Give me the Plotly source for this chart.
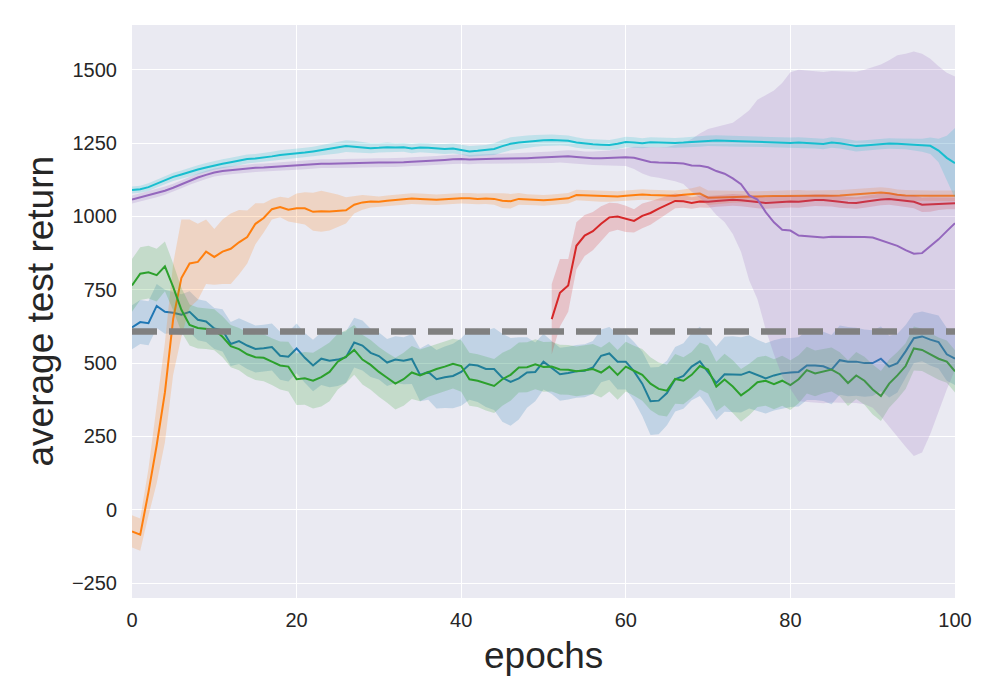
import plotly.graph_objects as go

# ---- data (one value per epoch) ----
epochs = list(range(101))
red_epochs = list(range(51, 101))

cyan = [1090,1093,1100,1112,1125,1135,1143,1152,1160,1167,
        1174,1180,1185,1190,1196,1198,1201,1205,1210,1212,
        1214,1218,1222,1226,1230,1234,1240,1238,1235,1233,
        1234,1236,1235,1236,1232,1235,1234,1231,1230,1232,
        1228,1222,1224,1226,1230,1240,1248,1252,1255,1258,
        1260,1261,1260,1258,1252,1248,1246,1245,1244,1248,
        1254,1252,1250,1253,1252,1252,1251,1252,1254,1256,
        1258,1259,1258,1257,1256,1256,1255,1254,1253,1252,
        1251,1252,1251,1250,1247,1252,1250,1245,1240,1242,
        1244,1247,1249,1248,1247,1245,1243,1241,1225,1200,
        1182]
cyan_sd = [12,12,13,13,14,14,14,15,15,15,
           15,15,15,15,15,15,15,16,16,16,
           16,16,16,17,18,19,20,20,18,17,
           16,16,15,15,16,16,16,16,17,17,
           17,18,18,18,20,22,22,22,21,20,
           20,19,18,18,18,17,17,17,17,18,
           18,18,17,17,17,17,17,17,18,18,
           18,18,18,18,18,18,18,18,18,18,
           18,18,18,18,18,18,18,18,18,18,
           18,18,18,18,18,20,22,28,40,75,
           120]

purple = [1058,1065,1072,1080,1088,1098,1110,1122,1133,1142,
          1150,1155,1158,1161,1164,1166,1167,1169,1171,1172,
          1174,1176,1179,1180,1180,1181,1180,1181,1182,1183,
          1184,1184,1184,1185,1187,1188,1190,1191,1193,1195,
          1196,1194,1196,1196,1197,1197,1198,1199,1199,1200,
          1201,1202,1204,1205,1203,1200,1199,1199,1200,1201,
          1202,1200,1192,1186,1184,1182,1182,1181,1174,1173,
          1168,1155,1146,1130,1110,1072,1058,1015,980,955,
          952,935,932,930,928,931,931,930,929,930,
          928,918,908,900,885,873,875,898,922,950,
          977]
purple_sd = [14,14,14,14,14,14,14,14,14,14,
             14,14,14,14,14,14,14,14,14,15,
             15,15,15,15,15,15,15,15,15,15,
             15,15,15,15,15,15,15,15,16,16,
             16,16,16,16,17,17,17,18,18,18,
             19,20,20,21,22,22,23,24,25,28,
             30,38,45,50,52,55,62,70,90,110,
             130,150,165,190,230,290,340,400,450,500,
             540,565,565,565,565,565,565,565,565,570,
             580,600,625,650,670,690,680,640,590,540,
             500]

orange = [-74,-85,60,220,400,650,790,840,845,880,
          862,880,890,912,930,975,995,1025,1032,1023,
          1028,1028,1016,1018,1017,1020,1021,1040,1048,1051,
          1050,1054,1056,1058,1061,1060,1058,1057,1059,1061,
          1062,1062,1060,1061,1060,1054,1052,1060,1058,1056,
          1055,1057,1060,1062,1073,1072,1070,1068,1068,1068,
          1071,1073,1075,1073,1072,1072,1071,1074,1076,1078,
          1064,1065,1066,1067,1068,1068,1068,1069,1070,1070,
          1071,1072,1071,1071,1070,1071,1072,1074,1076,1079,
          1081,1082,1079,1074,1072,1071,1071,1071,1071,1071,
          1071]
orange_sd = [55,55,80,130,170,190,200,150,130,110,
             95,110,120,110,90,70,50,35,35,40,
             50,55,65,70,65,55,45,30,25,20,
             18,18,18,18,18,18,18,18,18,18,
             18,18,18,18,20,25,25,20,18,18,
             18,18,18,18,18,18,18,18,18,18,
             18,18,18,18,18,18,18,18,20,25,
             25,24,22,20,18,18,18,18,18,18,
             18,18,18,18,18,18,18,18,18,18,
             18,18,18,18,18,18,18,18,18,18,
             18]

red = [650,740,765,900,935,950,975,997,1000,992,
       985,1002,1012,1027,1040,1053,1052,1046,1051,1050,
       1053,1056,1057,1055,1052,1048,1046,1048,1050,1051,
       1050,1053,1056,1056,1054,1050,1047,1046,1050,1055,
       1058,1060,1057,1052,1050,1040,1041,1044,1045,1045]
red_sd = [120,115,90,80,70,65,60,50,45,45,
          40,42,40,35,30,25,22,20,20,20,
          20,20,20,20,20,20,20,20,20,20,
          20,20,20,20,20,20,20,20,20,20,
          20,20,20,20,22,25,25,22,20,20]

blue = [622,640,636,695,675,672,665,675,648,642,
        618,612,565,575,560,548,551,555,525,522,
        550,518,492,515,508,512,520,570,560,535,
        524,502,512,508,514,460,470,445,452,456,
        470,495,492,480,480,450,436,448,468,470,
        505,485,462,466,472,474,485,525,533,505,
        505,472,430,370,372,398,445,456,488,506,
        470,432,462,462,460,470,458,448,458,465,
        468,470,492,492,489,478,510,505,505,500,
        500,515,488,500,540,585,591,580,572,530,
        515]
blue_sd = [75,75,75,75,75,70,70,70,70,70,
           70,72,75,78,80,80,80,80,82,85,
           85,85,88,90,90,90,88,85,85,82,
           80,80,80,80,85,90,95,100,105,110,
           115,120,125,130,140,150,150,140,120,100,
           95,90,90,90,90,90,90,90,90,95,
           95,100,110,115,115,110,110,112,115,118,
           120,125,128,130,128,125,122,120,120,120,
           118,118,118,118,118,118,118,118,116,115,
           112,110,105,100,90,85,85,88,90,90,
           90]

green = [765,805,810,800,830,760,682,630,620,618,
         614,590,558,548,530,520,518,505,492,488,
         445,448,440,452,470,505,522,545,512,494,
         470,450,430,445,468,458,470,480,488,498,
         490,445,440,430,422,445,460,485,486,496,
         487,488,478,477,472,476,480,468,488,460,
         488,474,460,430,412,406,446,440,460,490,
         478,420,444,420,390,410,435,440,428,440,
         425,445,476,465,472,478,462,432,458,440,
         410,388,430,458,490,550,545,530,515,505,
         472]
green_sd = [90,90,90,90,85,80,75,70,70,70,
            70,70,72,72,75,78,80,80,82,85,
            88,90,95,100,100,95,90,85,85,85,
            85,85,88,90,90,88,85,85,85,85,
            88,90,90,92,92,90,88,85,85,85,
            85,85,85,85,85,85,85,85,85,85,
            85,85,88,90,90,88,85,80,78,80,
            82,85,88,90,90,88,85,85,85,85,
            85,82,80,78,75,75,75,78,80,82,
            85,85,82,80,78,75,72,72,72,72,
            72]

baseline = 608
x_ticks = [0, 20, 40, 60, 80, 100]
y_ticks = [-250, 0, 250, 500, 750, 1000, 1250, 1500]

FONT = "Liberation Sans, Arial, sans-serif"
INK = "#262626"
series = [
    ("blue", epochs, blue, blue_sd, (31, 119, 180)),
    ("orange", epochs, orange, orange_sd, (255, 127, 14)),
    ("green", epochs, green, green_sd, (44, 160, 44)),
    ("red", red_epochs, red, red_sd, (214, 39, 40)),
    ("purple", epochs, purple, purple_sd, (148, 103, 189)),
    ("cyan", epochs, cyan, cyan_sd, (23, 190, 207)),
]

fig = go.Figure()
for name, xs, ys, sd, (r, g, b) in series:
    hi = [v + s for v, s in zip(ys, sd)]
    lo = [v - s for v, s in zip(ys, sd)]
    fig.add_trace(go.Scatter(x=list(xs) + list(xs)[::-1], y=hi + lo[::-1], fill="toself",
                             fillcolor=f"rgba({r},{g},{b},0.2)", line=dict(width=0),
                             hoverinfo="skip", showlegend=False))
    fig.add_trace(go.Scatter(x=xs, y=ys, mode="lines", name=name,
                             line=dict(color=f"rgb({r},{g},{b})", width=2), showlegend=False))

fig.add_trace(go.Scatter(x=[epochs[0], epochs[-1]], y=[baseline, baseline], mode="lines",
                         line=dict(color="#808080", width=6.5, dash="25px,12px"),
                         hoverinfo="skip", showlegend=False))

# page body adds an 8px offset; margins below put the plot area at x 132-955, y 25-598
PW, PH = 823, 573
fig.add_annotation(text="average test return", xref="paper", yref="paper", x=(40 - 132) / PW, y=0.5,
                   textangle=-90, showarrow=False, xanchor="center", yanchor="middle",
                   font=dict(size=37, color=INK, family=FONT))
fig.add_annotation(text="epochs", xref="paper", yref="paper", x=0.5, y=-(655 - 598) / PH,
                   showarrow=False, xanchor="center", yanchor="middle",
                   font=dict(size=37, color=INK, family=FONT))

fig.update_layout(width=1000, height=700, paper_bgcolor="white", plot_bgcolor="#EAEAF2",
                  margin=dict(l=124, r=53, t=17, b=110), showlegend=False,
                  font=dict(family=FONT, color=INK, size=20))
fig.update_xaxes(range=[0, 100], tickvals=x_ticks, showgrid=True, gridcolor="white", gridwidth=1.3,
                 zeroline=False, showline=False, ticks="", ticklabelstandoff=8,
                 tickfont=dict(size=20, color=INK))
fig.update_yaxes(range=[-301, 1653], tickvals=y_ticks, showgrid=True, gridcolor="white", gridwidth=1.3,
                 zeroline=False, showline=False, ticks="", ticklabelstandoff=14,
                 tickfont=dict(size=20, color=INK))
fig.write_html("out.html")
